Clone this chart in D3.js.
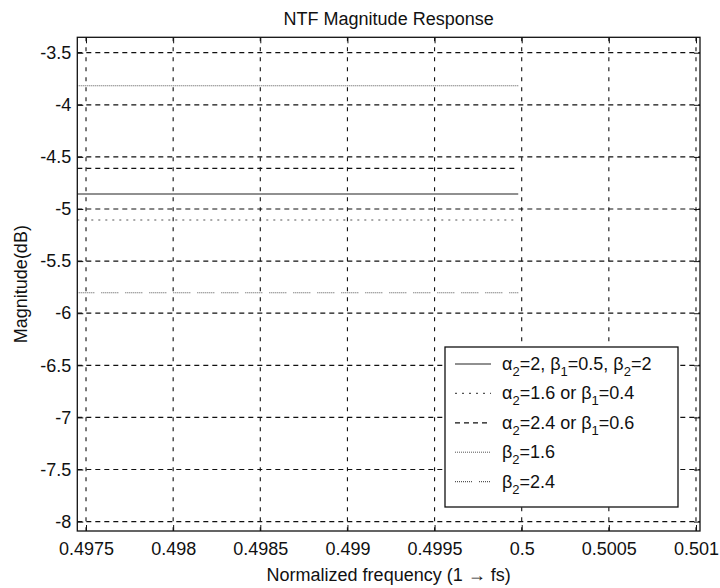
<!DOCTYPE html>
<html>
<head>
<meta charset="utf-8">
<script src="https://cdn.jsdelivr.net/npm/d3@7"></script>
<style>
  html, body { margin: 0; padding: 0; background: #fff; }
  svg text { font-family: "Liberation Sans", Arial, Helvetica, sans-serif; fill: #111; }
</style>
</head>
<body>
<svg id="chart" width="720" height="588"></svg>
<script>
// Frequency span covered by each trace (normalized to fs)
const freq = [0.49745, 0.49998];

// Magnitude of each NTF variant (dB)
const magNominal = [-4.856, -4.856];  // α2=2, β1=0.5, β2=2
const magLow     = [-5.106, -5.106];  // α2=1.6 or β1=0.4
const magHigh    = [-4.609, -4.609];  // α2=2.4 or β1=0.6
const magB2Low   = [-3.817, -3.817];  // β2=1.6
const magB2High  = [-5.803, -5.803];  // β2=2.4

// Axis ticks
const xTicks = [0.4975, 0.498, 0.4985, 0.499, 0.4995, 0.5, 0.5005, 0.501];
const xTickLabels = ["0.4975", "0.498", "0.4985", "0.499", "0.4995", "0.5", "0.5005", "0.501"];
const yTicks = [-3.5, -4, -4.5, -5, -5.5, -6, -6.5, -7, -7.5, -8];
const yTickLabels = ["-3.5", "-4", "-4.5", "-5", "-5.5", "-6", "-6.5", "-7", "-7.5", "-8"];

// Legend text; "_n" marks a subscript digit
const legendLabels = [
  "α_2=2, β_1=0.5, β_2=2",
  "α_2=1.6 or β_1=0.4",
  "α_2=2.4 or β_1=0.6",
  "β_2=1.6",
  "β_2=2.4"
];

const seriesValues = [magNominal, magLow, magHigh, magB2Low, magB2High];
const seriesStyles = [
  { stroke: "#222", dash: null,        width: 1.1 },
  { stroke: "#555", dash: "2,5",       width: 1.1 },
  { stroke: "#111", dash: "5,4",       width: 1.2 },
  { stroke: "#555", dash: "1,1",       width: 1.0 },
  { stroke: "#555", dash: "1,1,1,1,1,1,1,1,1,1,1,1,1,1,1,1,1,7", width: 1.1 }
];

const svg = d3.select("#chart");
const plot = { left: 77.3, right: 700, top: 37.3, bottom: 531 };

const x = d3.scaleLinear().domain([0.49745, 0.501023]).range([plot.left, plot.right]);
const y = d3.scaleLinear().domain([-8.09, -3.352]).range([plot.bottom, plot.top]);

// Grid
const grid = svg.append("g").attr("class", "grid");
grid.selectAll("line.h").data(yTicks).join("line")
  .attr("class", "h")
  .attr("x1", plot.left).attr("x2", plot.right)
  .attr("y1", d => y(d)).attr("y2", d => y(d))
  .attr("stroke", "#111").attr("stroke-width", 1.2)
  .attr("stroke-dasharray", "5,4");
grid.selectAll("line.v").data(xTicks).join("line")
  .attr("class", "v")
  .attr("y1", plot.top).attr("y2", plot.bottom)
  .attr("x1", d => x(d)).attr("x2", d => x(d))
  .attr("stroke", "#111").attr("stroke-width", 1.1)
  .attr("stroke-dasharray", "4,6");

// Traces
const line = d3.line().x((d, i) => x(freq[i])).y(d => y(d));
svg.append("g").selectAll("path").data(seriesValues).join("path")
  .attr("d", d => line(d))
  .attr("fill", "none")
  .attr("stroke", (d, i) => seriesStyles[i].stroke)
  .attr("stroke-width", (d, i) => seriesStyles[i].width)
  .attr("stroke-dasharray", (d, i) => seriesStyles[i].dash);

// Axes with inward ticks on all four sides
const tickLen = 6;
const xAxisB = d3.axisBottom(x).tickValues(xTicks).tickSize(-tickLen).tickFormat((d, i) => xTickLabels[i]).tickPadding(11);
const xAxisT = d3.axisTop(x).tickValues(xTicks).tickSize(-tickLen).tickFormat("");
const yAxisL = d3.axisLeft(y).tickValues(yTicks).tickSize(-tickLen).tickFormat((d, i) => yTickLabels[i]).tickPadding(6);
const yAxisR = d3.axisRight(y).tickValues(yTicks).tickSize(-tickLen).tickFormat("");

function styleAxis(g) {
  g.select(".domain").remove();
  g.selectAll(".tick line").attr("stroke", "#111").attr("stroke-width", 1);
  g.selectAll(".tick text").attr("font-size", 18).attr("fill", "#111")
    .style("font-family", "'Liberation Sans', Arial, sans-serif");
}
svg.append("g").attr("transform", `translate(0,${plot.bottom})`).call(xAxisB).call(styleAxis);
svg.append("g").attr("transform", `translate(0,${plot.top})`).call(xAxisT).call(styleAxis);
svg.append("g").attr("transform", `translate(${plot.left},0)`).call(yAxisL).call(styleAxis);
svg.append("g").attr("transform", `translate(${plot.right},0)`).call(yAxisR).call(styleAxis);

// Frame
svg.append("rect")
  .attr("x", plot.left).attr("y", plot.top)
  .attr("width", plot.right - plot.left).attr("height", plot.bottom - plot.top)
  .attr("fill", "none").attr("stroke", "#111").attr("stroke-width", 1.3);

// Titles
const cx = (plot.left + plot.right) / 2;
svg.append("text").attr("x", cx).attr("y", 25).attr("text-anchor", "middle")
  .attr("font-size", 18).text("NTF Magnitude Response");
svg.append("text").attr("x", cx).attr("y", 581).attr("text-anchor", "middle")
  .attr("font-size", 18).text("Normalized frequency (1 \u2192 fs)");
svg.append("text")
  .attr("transform", `translate(27,${(plot.top + plot.bottom) / 2}) rotate(-90)`)
  .attr("text-anchor", "middle").attr("font-size", 18).text("Magnitude(dB)");

// Legend
const lg = { x: 445, y: 347, w: 233, h: 160, row0: 364, step: 29.4 };
const legend = svg.append("g");
legend.append("rect")
  .attr("x", lg.x).attr("y", lg.y).attr("width", lg.w).attr("height", lg.h)
  .attr("fill", "#fff").attr("stroke", "#111").attr("stroke-width", 1.3);

legendLabels.forEach((label, i) => {
  const cy = lg.row0 + i * lg.step;
  const st = seriesStyles[i];
  legend.append("line")
    .attr("x1", lg.x + 10).attr("x2", lg.x + 46)
    .attr("y1", cy).attr("y2", cy)
    .attr("stroke", st.stroke).attr("stroke-width", st.width)
    .attr("stroke-dasharray", st.dash);
  const t = legend.append("text").attr("x", lg.x + 57).attr("y", cy + 6).attr("font-size", 18);
  const parts = label.split(/_(\d)/);
  parts.forEach((p, k) => {
    if (k % 2 === 1) {
      t.append("tspan").attr("font-size", 13).attr("dy", 6).text(p);
    } else if (p.length) {
      t.append("tspan").attr("dy", k === 0 ? 0 : -6).text(p);
    }
  });
});
</script>
</body>
</html>
